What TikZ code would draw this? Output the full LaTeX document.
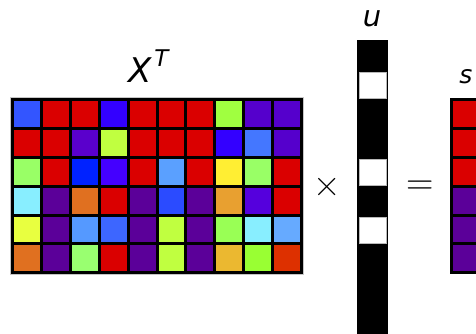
\documentclass[tikz,border=0pt]{standalone}
\usepackage{fontspec}
\setsansfont{DejaVu Sans}
\definecolor{rd}{HTML}{DA0000}
\definecolor{bl}{HTML}{3355FF}
\definecolor{bv}{HTML}{3300FF}
\definecolor{yg}{HTML}{A0FF40}
\definecolor{pp}{HTML}{5500CC}
\definecolor{pq}{HTML}{5A00CC}
\definecolor{lm}{HTML}{C0FF40}
\definecolor{lb}{HTML}{4477FF}
\definecolor{lg}{HTML}{99FF66}
\definecolor{db}{HTML}{0022FF}
\definecolor{vi}{HTML}{4400FF}
\definecolor{sk}{HTML}{5AA0FF}
\definecolor{ye}{HTML}{FFEE33}
\definecolor{cy}{HTML}{88EEFF}
\definecolor{dp}{HTML}{5B0099}
\definecolor{or}{HTML}{E07020}
\definecolor{b2}{HTML}{2B4BFF}
\definecolor{go}{HTML}{E8A030}
\definecolor{vd}{HTML}{5500DD}
\definecolor{yl}{HTML}{E8FF40}
\definecolor{s2}{HTML}{5599FF}
\definecolor{b3}{HTML}{3D66FF}
\definecolor{g2}{HTML}{99FF55}
\definecolor{s3}{HTML}{66AAFF}
\definecolor{g3}{HTML}{99FF70}
\definecolor{g4}{HTML}{EBB830}
\definecolor{g5}{HTML}{99FF33}
\definecolor{ro}{HTML}{DD3000}
\tikzset{
  gridline/.style={line width=3pt, black},
  lbl/.style={font=\sffamily\itshape, inner sep=0pt, anchor=base},
  opsym/.style={inner sep=0pt, anchor=base, font=\rmfamily\fontsize{38}{38}\selectfont},
}
\begin{document}
\begin{tikzpicture}[x=1pt,y=-1pt]
\useasboundingbox (0,0) rectangle (476,334);
\clip (0,0) rectangle (476,334);
\def\px{28.9}
\def\py{28.83}
% matrix X^T
\foreach \row [count=\r from 0] in {
  {bl,rd,rd,bv,rd,rd,rd,yg,pp,pp},
  {rd,rd,pq,lm,rd,rd,rd,bv,lb,pp},
  {lg,rd,db,vi,rd,sk,rd,ye,lg,rd},
  {cy,dp,or,rd,dp,b2,dp,go,vd,rd},
  {yl,dp,s2,b3,dp,lm,dp,g2,cy,s3},
  {or,dp,g3,rd,dp,lm,dp,g4,g5,ro}} {
  \foreach \c [count=\k from 0] in \row {
    \fill[\c] (12.5+\k*\px, 99.8+\r*\py) rectangle ++(\px,\py);
  }
}
\draw[gray!45, line width=1pt] (10.5,97.8) rectangle (303.5,274.8);
\foreach \k in {0,...,10} \draw[gridline] (12.5+\k*\px,98.3) -- (12.5+\k*\px,274.3);
\foreach \r in {0,...,6} \draw[gridline] (11,99.8+\r*\py) -- (303,99.8+\r*\py);
% vector u
\fill[black] (357,40) rectangle (388,334);
\foreach \i in {1,4,6} \draw[fill=white, draw=gray!55, line width=0.8pt] (359,43+29*\i) rectangle (386,69+29*\i);
% vector s
\foreach \c [count=\r from 0] in {rd,rd,rd,dp,dp,dp}
  \fill[\c] (451.5,99.8+\r*\py) rectangle ++(\px,\py);
\draw[gridline] (451.5,98.3) -- (451.5,274.3);
\foreach \r in {0,...,6} \draw[gridline] (450,99.8+\r*\py) -- (480,99.8+\r*\py);
% labels
\node[lbl, anchor=base west, font=\sffamily\itshape\fontsize{34}{34}\selectfont] (xt) at (128,83) {X\hspace{3pt}\raisebox{16pt}{\fontsize{23}{23}\selectfont T}};
\node[lbl, font=\sffamily\itshape\fontsize{29}{29}\selectfont] (u) at (372,27) {u};
\node[lbl, font=\sffamily\itshape\fontsize{25}{25}\selectfont] (s) at (466,84) {s};
\node[opsym] (times) at (327,196.5) {×};
\node[opsym] (eq) at (420,194.5) {=};
\end{tikzpicture}
\end{document}
